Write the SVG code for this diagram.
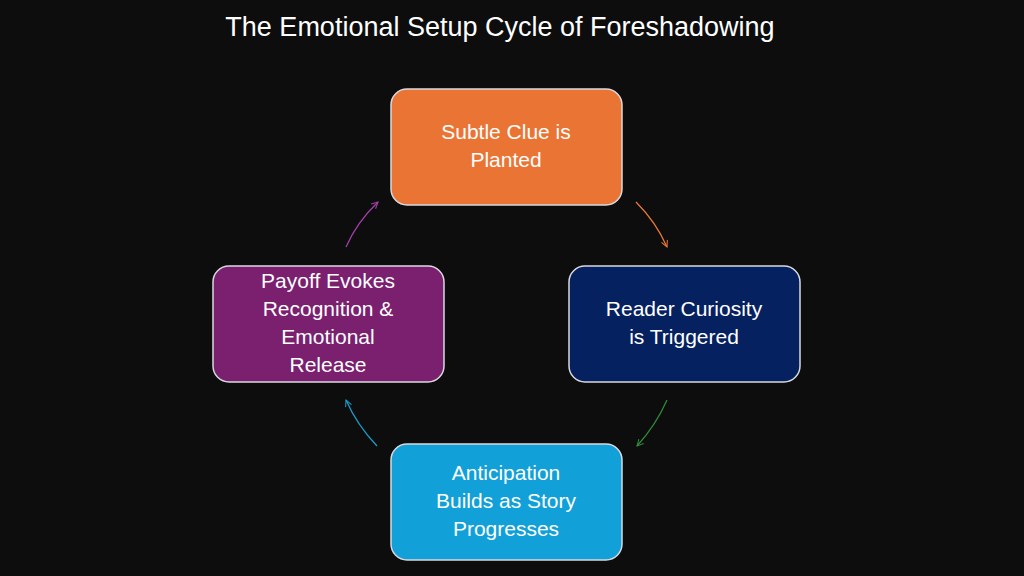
<svg xmlns="http://www.w3.org/2000/svg" width="1024" height="576" viewBox="0 0 1024 576">
<defs>
<marker id="ah" viewBox="0 0 10 10" refX="9" refY="5" markerWidth="8" markerHeight="8" orient="auto" markerUnits="userSpaceOnUse"><path d="M1,1 L9,5 L1,9" fill="none" stroke="context-stroke" stroke-width="1.3"/></marker>
</defs>
<style>
.box{stroke:#d9d9e0;stroke-width:1.5}
.t{font-family:"Liberation Sans",Arial,sans-serif;font-size:21px;fill:#fff;text-anchor:middle}
.c{fill:none;stroke-width:1.3;marker-end:url(#ah)}
</style>
<rect width="1024" height="576" fill="#0d0d0d"/>
<text x="500" y="36" font-family="'Liberation Sans',Arial,sans-serif" font-size="27" fill="#fff" text-anchor="middle">The Emotional Setup Cycle of Foreshadowing</text>
<g id="connectors">
<path class="c" stroke="#e87837" d="M636,202 Q656,222 667,247"/>
<path class="c" stroke="#2e8b3a" d="M667,400 Q656,425 637,446"/>
<path class="c" stroke="#1a9cc8" d="M377,446 Q357,425 346,400"/>
<path class="c" stroke="#a23fa8" d="M346,247 Q357,222 378,202"/>
</g>
<g id="n1"><rect class="box" x="391" y="89" width="231" height="116" rx="16" fill="#ea7434"/><text class="t" x="506" y="139">Subtle Clue is</text><text class="t" x="506" y="167">Planted</text></g>
<g id="n2"><rect class="box" x="569" y="266" width="231" height="116" rx="16" fill="#06215f"/><text class="t" x="684" y="316">Reader Curiosity</text><text class="t" x="684" y="344">is Triggered</text></g>
<g id="n3"><rect class="box" x="391" y="444" width="231" height="116" rx="16" fill="#12a0d8"/><text class="t" x="506" y="480">Anticipation</text><text class="t" x="506" y="508">Builds as Story</text><text class="t" x="506" y="536">Progresses</text></g>
<g id="n4"><rect class="box" x="213" y="266" width="231" height="116" rx="16" fill="#7b1f6f"/><text class="t" x="328" y="288">Payoff Evokes</text><text class="t" x="328" y="316">Recognition &amp;</text><text class="t" x="328" y="344">Emotional</text><text class="t" x="328" y="372">Release</text></g>
</svg>
